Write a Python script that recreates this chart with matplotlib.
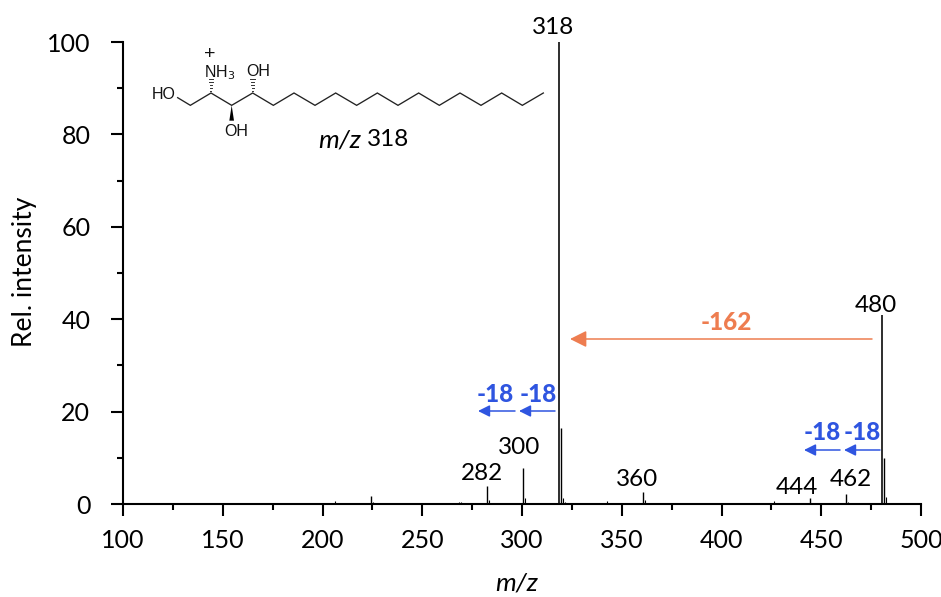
import matplotlib
matplotlib.use("Agg")
import matplotlib.pyplot as plt
from matplotlib.patches import Polygon

plt.rcParams['font.family'] = ['Lato', 'DejaVu Sans']

W, H = 941, 597

main_mz = [318.5, 480.5]
main_int = [100, 41]
major_mz = [319.5, 481.5, 300.5, 282.5, 360.5, 462.5, 444.5, 224.5]
major_int = [16.5, 10, 7.8, 4, 2.7, 2.1, 1.2, 1.7]
minor_mz = [320.5, 321.5, 482.5, 301.5, 283.5, 361.5, 463.5, 445.5, 225.5, 206.5, 342.5, 326, 426.5,
            266, 268.5, 269.5, 272, 250, 330, 345, 380, 395, 410]
minor_int = [1.2, 0.5, 1.5, 1.2, 0.8, 0.8, 0.4, 0.3, 0.4, 0.6, 0.6, 0.3, 0.7,
             0.25, 0.4, 0.4, 0.3, 0.1, 0.15, 0.15, 0.1, 0.1, 0.1]

peak_labels = ['318', '480', '300', '282', '360', '444', '462']
peak_label_px = [(553, 28), (876, 306), (519, 447), (482, 474), (637, 480), (797, 487), (851, 479)]

x_ticks = [100, 150, 200, 250, 300, 350, 400, 450, 500]
x_minor = [125, 175, 225, 275, 325, 375, 425, 475]
y_ticks = [0, 20, 40, 60, 80, 100]
y_minor = [10, 30, 50, 70, 90]

FS = 17.5

fig = plt.figure(figsize=(W / 100, H / 100), dpi=100)
ax = fig.add_axes([123 / W, 1 - 504 / H, (921 - 123) / W, (504 - 42) / H])
ax.vlines(main_mz, 0, main_int, color='black', lw=1.15)
ax.vlines(major_mz, 0, major_int, color='black', lw=1.0)
ax.vlines(minor_mz, 0, minor_int, color='black', lw=0.8)
ax.set_xlim(100, 500)
ax.set_ylim(0, 100)
ax.set_xticks(x_ticks)
ax.set_xticks(x_minor, minor=True)
ax.set_yticks(y_ticks)
ax.set_yticks(y_minor, minor=True)
ax.tick_params(axis='both', which='major', length=8.5, width=1.5, labelsize=18, direction='out')
ax.tick_params(axis='x', which='major', pad=9.5)
ax.tick_params(axis='y', which='major', pad=15)
ax.tick_params(axis='both', which='minor', length=4, width=1.5, direction='out')
for s in ('top', 'right'):
    ax.spines[s].set_visible(False)
for s in ('left', 'bottom'):
    ax.spines[s].set_linewidth(1.5)
ax.patch.set_alpha(0)

ov = fig.add_axes([0, 0, 1, 1])
ov.set_xlim(0, W)
ov.set_ylim(H, 0)
ov.axis('off')
ov.patch.set_alpha(0)

ov.text(25, 272, 'Rel. intensity', rotation=90, ha='center', va='center', fontsize=19)
ov.text(517, 583, 'm/z', style='italic', ha='center', va='center', fontsize=19)

for t, (x, y) in zip(peak_labels, peak_label_px):
    ov.text(x, y, t, ha='center', va='center', fontsize=FS)

# loss arrows
ORANGE = '#ee7d50'
BLUE = '#2f55e0'
def arrow(x0, x1, y, c, lw, ms):
    ov.annotate('', xy=(x1, y), xytext=(x0, y),
                arrowprops=dict(arrowstyle=f'-|>,head_length={ms},head_width={ms*0.5}',
                                color=c, lw=lw, shrinkA=0, shrinkB=0))
arrow(872, 570, 339, ORANGE, 1.1, 1.0)
ov.text(726, 323, '-162', color=ORANGE, fontweight='black', ha='center', va='center', fontsize=17.5)
for x0, x1, y in [(515, 478, 411), (555, 519, 411), (840, 804, 450), (880, 844, 450)]:
    arrow(x0, x1, y, BLUE, 1.1, 0.7)
for x, y in [(495, 395), (538, 395), (822, 433), (862, 433)]:
    ov.text(x, y, '-18', color=BLUE, fontweight='black', ha='center', va='center', fontsize=17.5)

# structure (zoom-crop coordinates mapped to pixels)
def z(x, y):
    return 130 + x / 3, 30 + y / 3
chain = [(143, 203), (181, 226), (243, 189), (305, 226), (368, 189), (430, 226), (492, 189), (555, 226),
         (617, 189), (680, 226), (742, 189), (804, 226), (866, 189), (928, 226), (990, 189), (1053, 226),
         (1115, 189), (1177, 226), (1240, 189)]
pts = [z(*p) for p in chain]
ov.plot([p[0] for p in pts], [p[1] for p in pts], color='#222222', lw=0.95, solid_joinstyle='miter')

# wedge bond (bold)
ov.add_patch(Polygon([z(305, 226), z(298, 272), z(312, 272)], closed=True, color='black', lw=0))
# hashed bonds
for xc, y0, y1 in [(243, 183, 148), (368, 183, 148)]:
    n = 5
    for i in range(n):
        yy = y0 + (y1 - y0) * i / (n - 1)
        hw = 1.5 + 5 * i / (n - 1)
        ov.plot([z(xc - hw, yy)[0], z(xc + hw, yy)[0]], [z(xc, yy)[1]] * 2, color='#333333', lw=0.7)

SF = dict(family='Liberation Sans', fontsize=11.5, color='#111111', va='center')
ov.text(*z(100, 194), 'HO', ha='center', **SF)
ov.text(*z(270, 127), 'NH$_3$', ha='center', math_fontfamily='dejavusans', **SF)
ov.text(*z(385, 126), 'OH', ha='center', **SF)
ov.text(*z(320, 304), 'OH', ha='center', **SF)
ov.text(*z(240, 73), '+', ha='center', family='Liberation Sans', fontsize=14, va='center', color='#111111')

ov.text(318, 140, 'm/z', style='italic', ha='left', va='center', fontsize=19)
ov.text(367, 140, '318', ha='left', va='center', fontsize=FS)

fig.savefig('out.png', dpi=100)
